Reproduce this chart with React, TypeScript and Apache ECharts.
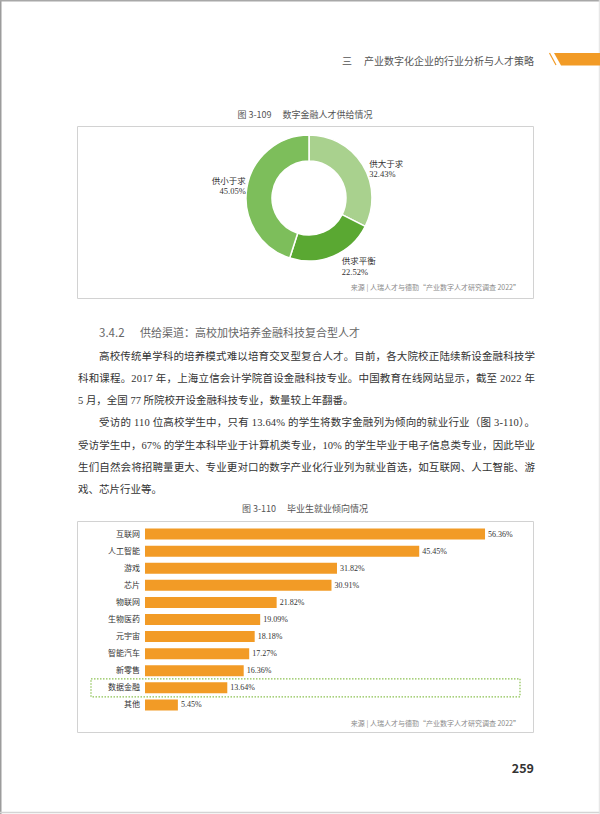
import React, { useEffect, useMemo, useRef } from "react";
import * as echarts from "echarts";

// ---------- data ----------
const pieNames = ["供大于求", "供求平衡", "供小于求"];
const pieValues = [32.43, 22.52, 45.05];

const barCategories = [
  "互联网",
  "人工智能",
  "游戏",
  "芯片",
  "物联网",
  "生物医药",
  "元宇宙",
  "智能汽车",
  "新零售",
  "数据金融",
  "其他",
];
const barValues = [56.36, 45.45, 31.82, 30.91, 21.82, 19.09, 18.18, 17.27, 16.36, 13.64, 5.45];
const highlightCategory = "数据金融";

// ---------- texts ----------
const headerChapter = "三";
const headerTitle = "产业数字化企业的行业分析与人才策略";
const pieTitle = "图 3-109　 数字金融人才供给情况";
const barTitle = "图 3-110　 毕业生就业倾向情况";
const sourceText = "来源 | 人瑞人才与德勤“产业数字人才研究调查 2022”";
const sectionNo = "3.4.2";
const sectionTitle = "供给渠道：高校加快培养金融科技复合型人才";
const pageNumber = "259";
const proseLines = [
  { text: "高校传统单学科的培养模式难以培育交叉型复合人才。目前，各大院校正陆续新设金融科技学", indent: true, justify: true },
  { text: "科和课程。2017 年，上海立信会计学院首设金融科技专业。中国教育在线网站显示，截至 2022 年", indent: false, justify: true },
  { text: "5 月，全国 77 所院校开设金融科技专业，数量较上年翻番。", indent: false, justify: false },
  { text: "受访的 110 位高校学生中，只有 13.64% 的学生将数字金融列为倾向的就业行业（图 3-110）。", indent: true, justify: true },
  { text: "受访学生中，67% 的学生本科毕业于计算机类专业，10% 的学生毕业于电子信息类专业，因此毕业", indent: false, justify: true },
  { text: "生们自然会将招聘量更大、专业更对口的数字产业化行业列为就业首选，如互联网、人工智能、游", indent: false, justify: true },
  { text: "戏、芯片行业等。", indent: false, justify: false },
];

// ---------- styles ----------
const SANS = "'Noto Sans CJK SC', 'Noto Sans', sans-serif";
const SERIF = "'Liberation Serif', 'Noto Sans CJK SC', serif";
const ORANGE = "#f29b26";
const pieColors = ["#a9d18e", "#5aa832", "#7dbe5b"];
const pieLabelShift = [
  [0, 2.5],
  [0, 1],
  [3, -1],
];
const PROSE_FONT = 10.5;
const PROSE_LEFT = 78;
const PROSE_WIDTH = 457;
const PROSE_INDENT = 21;
const PROSE_TOP = 356.5;
const PROSE_STEP = 22.3;

function measure(text: string, font: string): number {
  const c = document.createElement("canvas");
  const ctx = c.getContext("2d");
  if (!ctx) return 0;
  ctx.font = font;
  return ctx.measureText(text).width;
}

export default function App() {
  const ref = useRef<HTMLDivElement>(null);

  const lines = useMemo(() => {
    const font = `${PROSE_FONT}px ${SERIF}`;
    return proseLines.map((l, i) => {
      const avail = PROSE_WIDTH - (l.indent ? PROSE_INDENT : 0);
      const w = measure(l.text, font);
      const n = [...l.text].length;
      const ls = l.justify && n > 1 && w > 0 ? (avail - w) / (n - 1) : 0;
      return { ...l, ls, y: PROSE_TOP + i * PROSE_STEP };
    });
  }, []);

  useEffect(() => {
    const el = ref.current;
    if (!el) return;
    const chart = echarts.init(el, undefined, { renderer: "svg", width: 600, height: 814 });

    const option: any = {
      animation: false,
      backgroundColor: "#ffffff",
      grid: { left: 145, top: 525.5, width: 362, height: 188, containLabel: false },
      xAxis: { type: "value", min: 0, max: 60, show: false },
      yAxis: {
        type: "category",
        data: barCategories,
        inverse: true,
        axisLine: { show: false },
        axisTick: { show: false },
        splitLine: { show: false },
        axisLabel: { color: "#333", fontSize: 8, margin: 5, fontFamily: SERIF },
      },
      series: [
        {
          type: "pie",
          center: [309, 198],
          radius: [37, 63],
          startAngle: 90,
          clockwise: true,
          avoidLabelOverlap: false,
          itemStyle: { borderColor: "#ffffff", borderWidth: 1.5 },
          label: {
            show: true,
            position: "outside",
            formatter: "{b}\n{c}%",
            fontSize: 8.5,
            lineHeight: 10.5,
            color: "#333333",
            fontFamily: SERIF,
            distanceToLabelLine: 5,
          },
          labelLine: { show: false, length: 2, length2: 0 },
          labelLayout: (p: any) => ({
            dx: pieLabelShift[p.dataIndex][0],
            dy: pieLabelShift[p.dataIndex][1],
          }),
          emphasis: { disabled: true },
          data: pieNames.map((name, i) => ({
            name,
            value: pieValues[i],
            itemStyle: { color: pieColors[i] },
            labelLine: { show: false, length: i === 1 ? 9 : 2, length2: 0 },
          })),
        },
        {
          type: "bar",
          data: barValues,
          barWidth: 11,
          itemStyle: { color: ORANGE },
          label: {
            show: true,
            position: "right",
            distance: 3,
            formatter: "{c}%",
            fontSize: 8,
            color: "#333",
            fontFamily: SERIF,
          },
          emphasis: { disabled: true },
        },
      ],
    };
    chart.setOption(option);

    const yHl = chart.convertToPixel({ yAxisIndex: 0 }, highlightCategory) as number;

    const txt = (x: number, y: number, text: string, size: number, fill: string, align: string, extra: any = {}) => ({
      type: "text",
      x,
      y,
      style: {
        text,
        fill,
        fontSize: size,
        fontFamily: SANS,
        textAlign: align,
        textVerticalAlign: "middle",
        ...extra,
      },
      silent: true,
    });

    const elements: any[] = [
      // page frame
      { type: "line", shape: { x1: 0.75, y1: 0, x2: 0.75, y2: 814 }, style: { stroke: "#9c9c9c", lineWidth: 1.5 } },
      { type: "line", shape: { x1: 0, y1: 0.75, x2: 600, y2: 0.75 }, style: { stroke: "#a8a8a8", lineWidth: 1.5 } },
      { type: "line", shape: { x1: 0, y1: 812.5, x2: 600, y2: 812.5 }, style: { stroke: "#d4d4d4", lineWidth: 1.5 } },
      { type: "line", shape: { x1: 599.3, y1: 0, x2: 599.3, y2: 814 }, style: { stroke: "#e2e2e2", lineWidth: 1 } },
      // header
      txt(342, 60, headerChapter, 10, "#555", "left"),
      txt(364, 60, headerTitle, 10, "#555", "left"),
      { type: "line", shape: { x1: 549.5, y1: 53, x2: 556, y2: 65 }, style: { stroke: ORANGE, lineWidth: 1.2 } },
      { type: "polygon", shape: { points: [[554, 53], [600, 53], [600, 65.5], [561, 65.5]] }, style: { fill: ORANGE } },
      // pie block
      txt(305, 114, pieTitle, 9, "#555", "center"),
      { type: "rect", shape: { x: 77.5, y: 126.5, width: 456, height: 172 }, style: { fill: "none", stroke: "#d2d2d2", lineWidth: 1 } },
      txt(520, 287, sourceText, 7, "#8a8a8a", "right"),
      // section heading
      txt(99, 332, sectionNo, 11.5, "#666", "left"),
      txt(140, 332, sectionTitle, 11, "#666", "left"),
      // bar block
      txt(305, 508, barTitle, 9, "#555", "center"),
      { type: "rect", shape: { x: 77.5, y: 521.5, width: 456, height: 211 }, style: { fill: "none", stroke: "#d2d2d2", lineWidth: 1 } },
      {
        type: "rect",
        shape: { x: 91, y: yHl - 9, width: 429, height: 18 },
        style: { fill: "none", stroke: "#8cc152", lineWidth: 1.2, lineDash: [1.5, 1.5] },
        silent: true,
      },
      txt(520, 723, sourceText, 7, "#8a8a8a", "right"),
      // page number
      txt(534, 767, pageNumber, 12.5, "#333", "right", { fontWeight: "bold" }),
    ];
    chart.setOption({ graphic: { elements } });

    return () => chart.dispose();
  }, []);

  return (
    <div
      style={{
        position: "fixed",
        left: 0,
        top: 0,
        width: 600,
        height: 814,
        background: "#fff",
        overflow: "hidden",
      }}
    >
      <div ref={ref} style={{ position: "absolute", left: 0, top: 0, width: 600, height: 814 }} />
      {lines.map((l, i) => (
        <div
          key={i}
          style={{
            position: "absolute",
            left: PROSE_LEFT + (l.indent ? PROSE_INDENT : 0),
            top: l.y - 8,
            height: 16,
            lineHeight: "16px",
            fontSize: PROSE_FONT,
            fontFamily: SERIF,
            color: "#333",
            whiteSpace: "nowrap",
            letterSpacing: l.ls ? `${l.ls}px` : undefined,
          }}
        >
          {l.text}
        </div>
      ))}
    </div>
  );
}
